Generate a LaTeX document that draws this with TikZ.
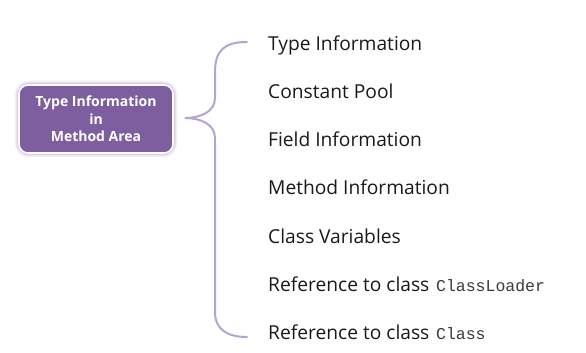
\documentclass[tikz,border=0pt]{standalone}
\usepackage{fontspec}
\setmainfont{Open Sans}[BoldFont={Open Sans Bold}]
\setmonofont{Liberation Mono}
\definecolor{boxfill}{HTML}{7D5E9E}
\definecolor{glow}{HTML}{C9B8DD}
\definecolor{bracecol}{HTML}{B3A5CF}
\definecolor{monocol}{HTML}{3A3A3A}
\begin{document}
\begin{tikzpicture}[x=1pt,y=1pt,
  item/.style={anchor=base west,inner sep=0pt,text=black!90,font=\fontsize{19.2}{22}\selectfont},
  mainbox/.style={rounded corners=9pt,fill=boxfill,draw=white,line width=1.6pt,
    minimum width=154pt,minimum height=68pt,align=center,text=white,
    font=\bfseries\fontsize{14}{17.5}\selectfont}]
\useasboundingbox (0,0) rectangle (586,353);
% glow
\foreach \w/\o in {9/0.15,7/0.2,5/0.3,3.5/0.45}{
  \draw[glow,line width=\w pt,opacity=\o,rounded corners=10pt] (19,200) rectangle (173,268);
}
\node[mainbox] (box) at (96,234) {Type Information\\in\\Method Area};
% brace
\coordinate (bt) at (247,311);
\coordinate (bm) at (185,235);
\coordinate (bb) at (247,16);
\draw[bracecol,line width=2pt,line cap=round]
  (bt) .. controls (225,311) and (215,303) .. (215,281) -- (215,255)
  .. controls (215,241) and (200,235) .. (bm)
  .. controls (200,235) and (215,229) .. (215,215) -- (215,41)
  .. controls (215,23) and (228,16) .. (bb);
\newcommand\codefont{\ttfamily\fontsize{16.5}{20}\selectfont\color{monocol}}
\node[item] (t1) at (268,302) {Type Information};
\node[item] (t2) at (268,254) {Constant Pool};
\node[item] (t3) at (268,206) {Field Information};
\node[item] (t4) at (268,158) {Method Information};
\node[item] (t5) at (268,109) {Class Variables};
\node[item] (t6) at (268,61) {Reference to class\hspace{0.35em}{\codefont ClassLoader}};
\node[item] (t7) at (268,13) {Reference to class\hspace{0.35em}{\codefont Class}};
\end{tikzpicture}
\end{document}
